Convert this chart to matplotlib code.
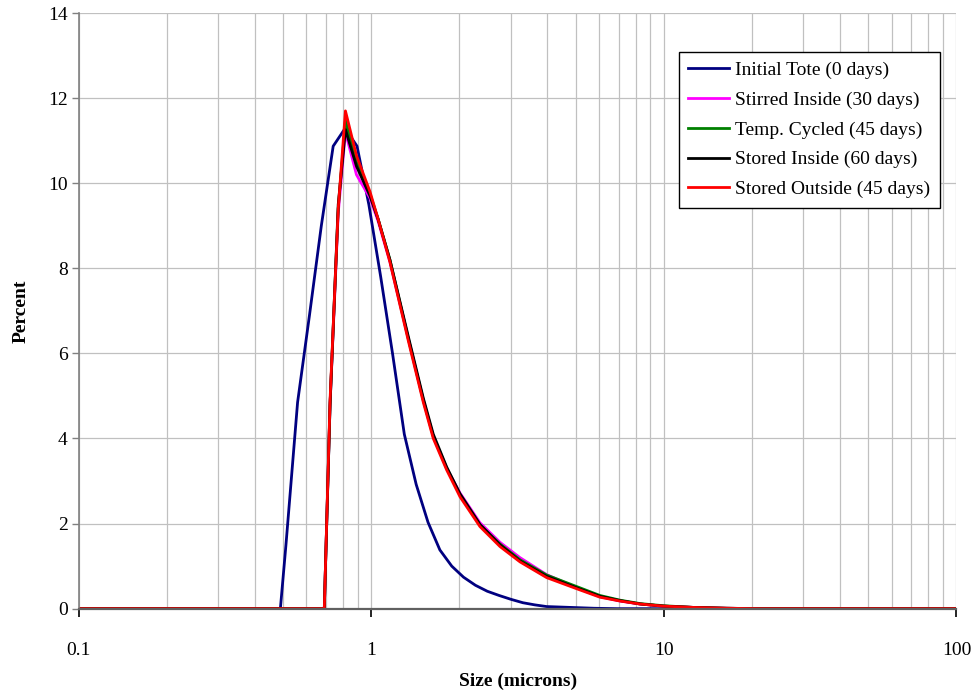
import numpy as np
import matplotlib
matplotlib.use('Agg')
import matplotlib.pyplot as plt
from matplotlib.ticker import FixedLocator, LogLocator, NullFormatter

plt.rcParams['font.family'] = ['Liberation Serif', 'DejaVu Serif']

# Initial tote (size in microns, percent)
initial_size = [0.1, 0.489, 0.511, 0.560, 0.615, 0.675, 0.741, 0.814, 0.894, 0.981,
                1.077, 1.182, 1.297, 1.424, 1.563, 1.716, 1.884, 2.067, 2.270, 2.491,
                2.736, 3.002, 3.297, 3.618, 3.973, 4.360, 4.786, 5.768, 6.951, 100]
initial_pct = [0, 0, 1.5, 4.85, 6.9, 9.0, 10.87, 11.29, 10.87, 9.5,
               7.8, 6.0, 4.1, 2.92, 2.03, 1.38, 1.0, 0.74, 0.55, 0.41,
               0.31, 0.22, 0.14, 0.09, 0.05, 0.04, 0.03, 0.01, 0, 0]

# Later samples share one size grid
size = [0.1, 0.691, 0.723, 0.771, 0.816, 0.890, 0.990, 1.056, 1.158, 1.338,
        1.506, 1.629, 1.810, 2.010, 2.352, 2.754, 3.223, 3.976, 5.168, 6.047,
        7.079, 8.285, 9.95, 12.60, 16.39, 21.30, 100]
stirred_inside = [0, 0, 4.8, 9.3, 11.2, 10.2, 9.65, 9.1, 8.15, 6.35,
                  4.9, 4.05, 3.3, 2.72, 2.02, 1.56, 1.2, 0.8, 0.46, 0.28,
                  0.18, 0.11, 0.06, 0.03, 0.01, 0, 0]
temp_cycled = [0, 0, 4.8, 9.4, 11.48, 10.5, 9.75, 9.15, 8.2, 6.35,
               4.9, 4.05, 3.3, 2.68, 1.97, 1.52, 1.15, 0.79, 0.49, 0.31,
               0.2, 0.12, 0.07, 0.03, 0.01, 0, 0]
stored_inside = [0, 0, 4.8, 9.5, 11.26, 10.4, 9.7, 9.15, 8.2, 6.4,
                 4.95, 4.1, 3.33, 2.7, 1.98, 1.5, 1.12, 0.76, 0.46, 0.29,
                 0.19, 0.11, 0.06, 0.03, 0.01, 0, 0]
stored_outside = [0, 0, 4.9, 9.4, 11.7, 10.65, 9.8, 9.15, 8.15, 6.3,
                  4.85, 4.0, 3.26, 2.63, 1.93, 1.46, 1.10, 0.73, 0.44, 0.27,
                  0.18, 0.11, 0.06, 0.03, 0.01, 0, 0]

labels = ['Initial Tote (0 days)', 'Stirred Inside (30 days)', 'Temp. Cycled (45 days)',
          'Stored Inside (60 days)', 'Stored Outside (45 days)']
colors = ['#000080', '#ff00ff', '#008000', '#000000', '#ff0000']

fig = plt.figure(figsize=(9.76, 6.92), dpi=100)
ax = fig.add_axes([0.0806, 0.1204, 0.8994, 0.8608])

ax.plot(initial_size, initial_pct, color=colors[0], lw=2.0, label=labels[0])
for vals, lab, col in zip([stirred_inside, temp_cycled, stored_inside, stored_outside],
                          labels[1:], colors[1:]):
    ax.plot(size, vals, color=col, lw=2.0, label=lab)

ax.set_xscale('log')
ax.set_xlim(0.1, 100)
ax.set_ylim(0, 14)
ax.xaxis.set_major_locator(FixedLocator([0.1, 1, 10, 100]))
ax.set_xticklabels(['0.1', '1', '10', '100'])
ax.xaxis.set_minor_locator(LogLocator(base=10, subs=np.arange(2, 10)))
ax.xaxis.set_minor_formatter(NullFormatter())
ax.set_yticks(np.arange(0, 15, 2))

ax.grid(True, which='both', axis='x', color='#c0c0c0', lw=0.9)
ax.grid(True, which='major', axis='y', color='#c0c0c0', lw=0.9)
ax.set_axisbelow(True)

for s in ['top', 'right']:
    ax.spines[s].set_visible(False)
ax.spines['left'].set_color('#808080')
ax.spines['bottom'].set_color('#606060')
ax.spines['left'].set_linewidth(1.2)
ax.spines['bottom'].set_linewidth(1.6)

ax.tick_params(axis='x', which='major', direction='out', length=6, width=1.2,
               color='black', pad=18, labelsize=14)
ax.tick_params(axis='x', which='minor', length=0)
ax.tick_params(axis='y', direction='out', length=5, width=1, color='#808080',
               pad=3, labelsize=14)

ax.set_xlabel('Size (microns)', fontsize=14, fontweight='bold', labelpad=10)
ax.set_ylabel('Percent', fontsize=14, fontweight='bold', labelpad=13)

leg = ax.legend(loc='upper right', bbox_to_anchor=(0.963, 0.925),
                bbox_transform=fig.transFigure, fontsize=14, frameon=True,
                fancybox=False, borderaxespad=0, labelspacing=0.62,
                handlelength=2.1, handletextpad=0.3, borderpad=0.5)
leg.get_frame().set_edgecolor('black')
leg.get_frame().set_linewidth(1.0)
leg.get_frame().set_alpha(1)

fig.savefig('out.png', dpi=100)
